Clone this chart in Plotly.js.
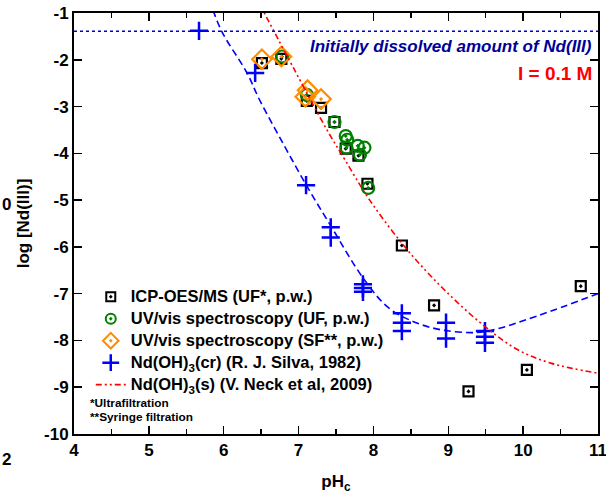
<!DOCTYPE html>
<html><head><meta charset="utf-8">
<script src="https://cdn.plot.ly/plotly-3.0.1.min.js"></script>
<style>body{margin:0;padding:0;background:#fff}#chart{width:606px;height:497px}</style>
</head><body><div id="chart"></div>
<script>
// ICP-OES/MS (UF*, p.w.)
const icpPH = [6.51, 6.77, 7.11, 7.30, 7.48, 7.63, 7.80, 7.92, 8.38, 8.81, 9.27, 10.05, 10.77];
const icpLog = [-2.07, -1.98, -2.88, -3.03, -3.33, -3.90, -4.05, -4.65, -5.97, -7.25, -9.09, -8.63, -6.84];
// UV/vis spectroscopy (UF, p.w.)
const ufPH = [6.78, 7.11, 7.48, 7.63, 7.65, 7.64, 7.79, 7.88, 7.82, 7.93];
const ufLog = [-1.93, -2.75, -3.33, -3.63, -3.71, -3.88, -3.84, -3.88, -4.03, -4.74];
// UV/vis spectroscopy (SF**, p.w.)
const sfPH = [6.51, 6.77, 7.12, 7.09, 7.30];
const sfLog = [-1.99, -1.93, -2.65, -2.79, -2.84];
// Nd(OH)3(cr) (R. J. Silva, 1982)
const silvaPH = [5.67, 6.42, 7.10, 7.43, 7.43, 7.86, 7.86, 7.86, 8.38, 8.38, 8.38, 8.97, 8.97, 9.49, 9.49, 9.49];
const silvaLog = [-1.38, -2.28, -4.68, -5.58, -5.80, -6.80, -6.88, -6.96, -7.42, -7.62, -7.80, -7.62, -7.96, -7.80, -7.92, -8.05];
// Silva fit curve
const silvaFitPH = [5.81, 5.97, 6.31, 6.48, 6.79, 7.11, 7.43, 7.86, 8.20, 8.57, 8.93, 9.38, 9.66, 10.20, 11.00];
const silvaFitLog = [-0.72, -1.38, -2.28, -2.86, -3.78, -4.70, -5.55, -6.66, -7.30, -7.62, -7.78, -7.83, -7.75, -7.47, -7.00];
// Nd(OH)3(s) (V. Neck et al, 2009)
const neckPH = [6.45, 6.97, 7.38, 7.62, 7.95, 8.43, 8.93, 9.48, 9.93, 10.38, 11.00];
const neckLog = [-0.72, -2.29, -3.50, -4.14, -5.00, -6.02, -6.89, -7.69, -8.20, -8.49, -8.70];
// Initially dissolved amount
const initialLog = -1.39;
const xRange = [4, 11];
const yRange = [-10, -1];
const xTicks = [4, 5, 6, 7, 8, 9, 10, 11];
const yTicks = [-10, -9, -8, -7, -6, -5, -4, -3, -2, -1];
const names = ['ICP-OES/MS (UF*, p.w.)', 'UV/vis spectroscopy (UF, p.w.)', 'UV/vis spectroscopy (SF**, p.w.)',
  'Nd(OH)<sub>3</sub>(cr) (R. J. Silva, 1982)', 'Nd(OH)<sub>3</sub>(s) (V. Neck et al, 2009)'];

const F = 'Arial, "Liberation Sans", sans-serif';
const big = s => '<span style="font-size:16.5px">' + s + '</span>';
const sq = {symbol: 'square-open-dot', color: '#000'};
const ci = {symbol: 'circle-open-dot', color: '#008000'};
const di = {symbol: 'diamond-open-dot', color: '#FF8C00'};
const cr = {symbol: 'cross-thin-open', color: '#0000FF'};
const mk = (m, size, w) => ({symbol: m.symbol, size: size, color: m.color, line: {width: w, color: m.color}});

const traces = [
  // legend entries
  {x: [null], y: [null], mode: 'markers', name: big(names[0]), marker: mk(sq, 9, 2)},
  {x: [null], y: [null], mode: 'markers', name: big(names[1]), marker: mk(ci, 10, 2)},
  {x: [null], y: [null], mode: 'markers', name: big(names[2]), marker: mk(di, 12, 2)},
  {x: [null], y: [null], mode: 'markers', name: big(names[3]), marker: mk(cr, 12, 2.5)},
  {x: [null], y: [null], mode: 'lines', name: big(names[4]),
   line: {color: '#FF0000', width: 1.6, dash: '6px,3px,2px,3px,2px,3px'}},
  // data
  {x: icpPH, y: icpLog, mode: 'markers', showlegend: false, marker: mk(sq, 10, 2.2)},
  {x: ufPH, y: ufLog, mode: 'markers', showlegend: false, marker: mk(ci, 12, 2.2)},
  {x: sfPH, y: sfLog, mode: 'markers', showlegend: false, marker: mk(di, 15, 2.2)},
  {x: silvaPH, y: silvaLog, mode: 'markers', showlegend: false, marker: mk(cr, 13, 2.5)},
  {x: silvaFitPH, y: silvaFitLog, mode: 'lines', showlegend: false, hoverinfo: 'skip',
   line: {color: '#0000FF', width: 1.6, dash: '7px,4px', shape: 'spline'}},
  {x: neckPH, y: neckLog, mode: 'lines', showlegend: false,
   line: {color: '#FF0000', width: 1.6, dash: '6px,3px,2px,3px,2px,3px', shape: 'spline'}},
  {x: xRange, y: [initialLog, initialLog], mode: 'lines', showlegend: false, hoverinfo: 'skip',
   line: {color: '#0000CC', width: 1.5, dash: 'dot'}}
];

const axisCommon = {
  showline: true, linecolor: '#000', linewidth: 2, mirror: 'allticks',
  ticks: 'inside', ticklen: 8, tickwidth: 1.5, tickcolor: '#000',
  showgrid: false, zeroline: false, ticklabeloverflow: 'allow',
  tickfont: {family: F, size: 17, color: '#000', weight: 'bold'}
};

const layout = {
  width: 606, height: 497,
  margin: {l: 74, r: 8, t: 13, b: 63},
  paper_bgcolor: '#fff', plot_bgcolor: '#fff',
  showlegend: true,
  legend: {x: 0.032, y: 0.364, xanchor: 'left', yanchor: 'top', bgcolor: 'rgba(0,0,0,0)',
    font: {family: F, size: 14.6, color: '#000', weight: 'bold'}, tracegroupgap: 0, itemwidth: 30},
  xaxis: Object.assign({}, axisCommon, {range: xRange, tickmode: 'array', tickvals: xTicks,
    ticktext: xTicks.map(String),
    minor: {dtick: 0.5, tick0: 4, ticks: 'inside', ticklen: 5, tickwidth: 1.5, tickcolor: '#000'},
    title: {text: 'pH<sub>c</sub>', font: {family: F, size: 17, color: '#000', weight: 'bold'}, standoff: 16}}),
  yaxis: Object.assign({}, axisCommon, {range: yRange, tickmode: 'array', tickvals: yTicks,
    ticktext: yTicks.map(String),
    title: {text: 'log [Nd(III)]', font: {family: F, size: 17, color: '#000', weight: 'bold'}, standoff: 10}}),
  annotations: [
    {xref: 'paper', yref: 'paper', x: 0.993, y: 0.921, xanchor: 'right', yanchor: 'middle', showarrow: false,
     text: '<i>Initially dissolved amount of Nd(III)</i>', font: {family: F, size: 17, color: '#000099', weight: 'bold'}},
    {xref: 'paper', yref: 'paper', x: 0.993, y: 0.857, xanchor: 'right', yanchor: 'middle', showarrow: false,
     text: 'I = 0.1 M', font: {family: F, size: 19, color: '#FF0000', weight: 'bold'}},
    {xref: 'paper', yref: 'paper', x: 0.027, y: 0.074, xanchor: 'left', yanchor: 'middle', showarrow: false,
     text: '*Ultrafiltration', font: {family: F, size: 11.8, color: '#000', weight: 'bold'}},
    {xref: 'paper', yref: 'paper', x: 0.027, y: 0.040, xanchor: 'left', yanchor: 'middle', showarrow: false,
     text: '**Syringe filtration', font: {family: F, size: 11.8, color: '#000', weight: 'bold'}},
    {xref: 'paper', yref: 'paper', x: -0.142, y: 0.545, xanchor: 'left', yanchor: 'middle', showarrow: false,
     text: '0', font: {family: F, size: 17, color: '#000', weight: 'bold'}},
    {xref: 'paper', yref: 'paper', x: -0.142, y: -0.06, xanchor: 'left', yanchor: 'middle', showarrow: false,
     text: '2', font: {family: F, size: 17, color: '#000', weight: 'bold'}}
  ]
};

Plotly.newPlot('chart', traces, layout, {displayModeBar: false, staticPlot: true});
</script></body></html>
